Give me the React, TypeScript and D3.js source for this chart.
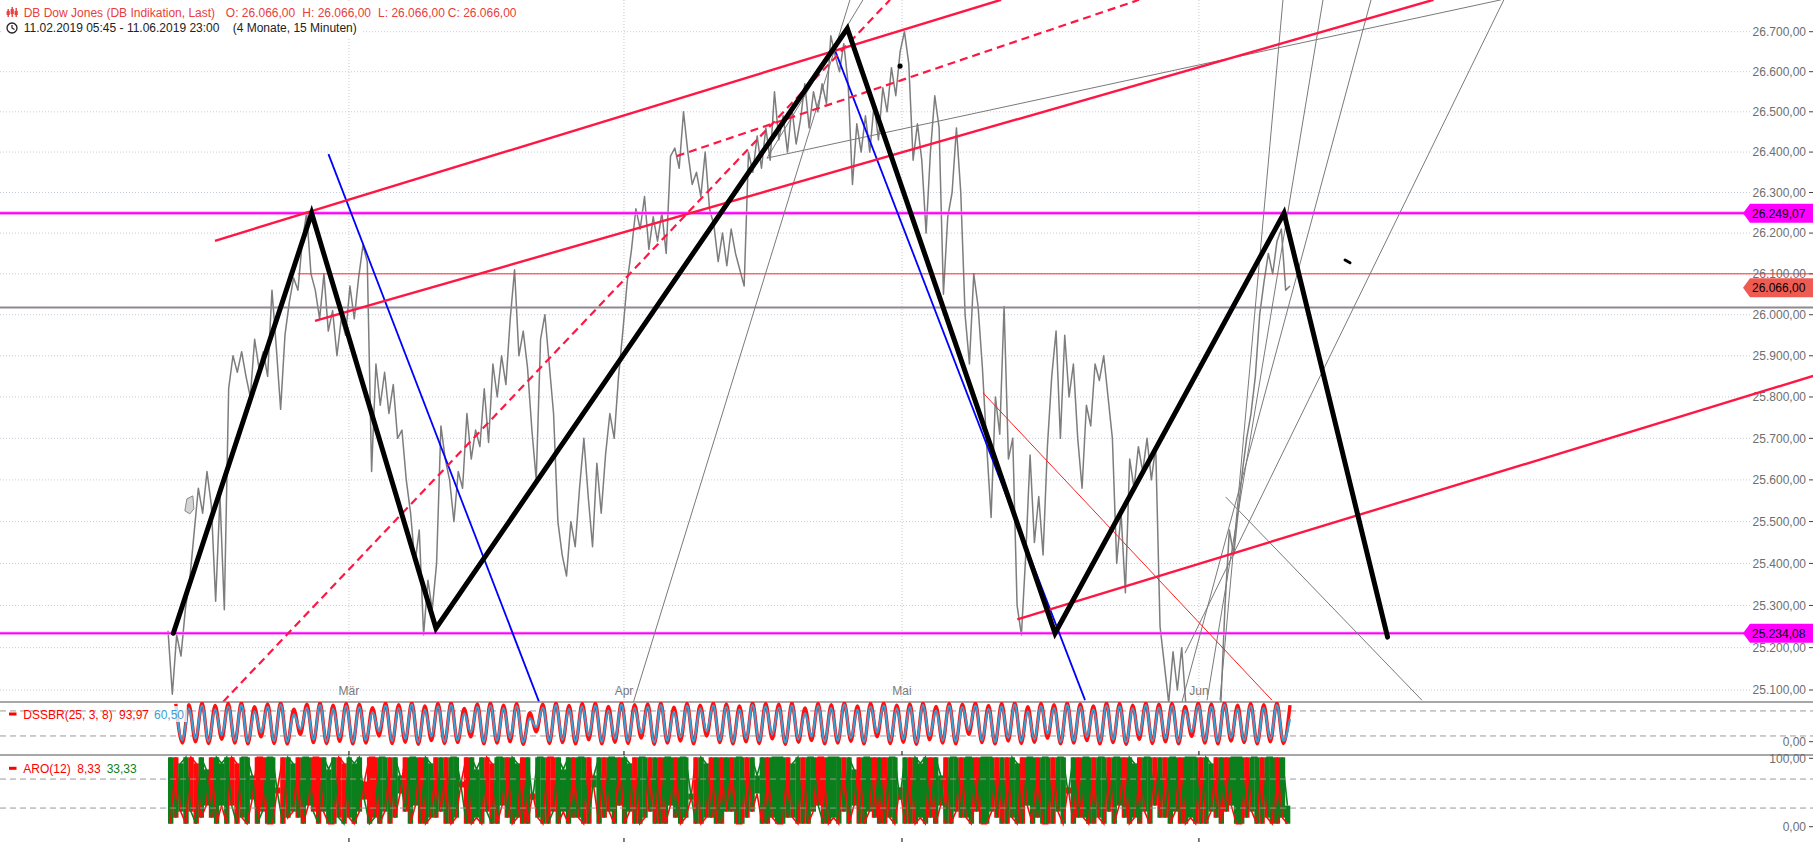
import React from 'react';
import * as d3 from 'd3';

const W = 1813;
const H = 842;

// ---------------- data ----------------
// Dow Jones 15-min closes, sampled roughly every 1/3 trading day (11.02.2019 - 11.06.2019)
const priceSeries = [
  25240, 25090, 25230, 25180, 25290, 25360, 25470, 25580, 25520, 25620,
  25540, 25310, 25560, 25290, 25820, 25900, 25860, 25910, 25850, 25800,
  25940, 25870, 25910, 25850, 26060, 25920, 25770, 25950, 26030, 26090,
  26060, 26180, 26250, 26100, 26060, 25990, 26100, 25960, 26010, 25900,
  25990, 25950, 26070, 25990, 26090, 26170, 26130, 25620, 25880, 25780,
  25860, 25760, 25830, 25700, 25720, 25600, 25520, 25400, 25480, 25230,
  25360, 25290, 25400, 25730, 25650, 25600, 25500, 25620, 25580, 25760,
  25650, 25720, 25680, 25820, 25690, 25880, 25800, 25900, 25830, 25990,
  26110, 25900, 25960, 25870, 25720, 25600, 25940, 26000, 25880, 25760,
  25500, 25420, 25370, 25500, 25440, 25580, 25700, 25560, 25440, 25640,
  25520, 25660, 25760, 25700, 25850, 25960, 26080, 26160, 26260, 26210,
  26290, 26160, 26240, 26180, 26250, 26150, 26390, 26410, 26360, 26500,
  26400, 26320, 26350, 26290, 26400, 26260, 26220, 26130, 26200, 26120,
  26210, 26150, 26110, 26070, 26400, 26350, 26440, 26360, 26460, 26380,
  26550, 26430, 26490, 26400, 26510, 26420, 26480, 26570, 26460, 26550,
  26500, 26570, 26520, 26690, 26640, 26600, 26670, 26570, 26320, 26470,
  26400, 26490, 26400, 26520, 26430, 26560, 26500, 26610, 26540, 26650,
  26700, 26620, 26380, 26470, 26380, 26200, 26400, 26540, 26460, 26050,
  26240, 26300, 26460, 26300, 26000, 25880, 26100, 26020, 25870, 25680,
  25510, 25800, 25710, 26020, 25650, 25700, 25300, 25230, 25420, 25660,
  25450, 25560, 25420, 25680, 25850, 25960, 25700, 25950, 25800, 25880,
  25700, 25580, 25780, 25730, 25880, 25840, 25900, 25800, 25700, 25400,
  25520, 25330, 25650, 25580, 25680, 25620, 25700, 25600, 25680, 25250,
  25160, 25070, 25190, 25100, 25200, 25060, 25010, 24950, 24900, 24960,
  24880, 24920, 24980, 25060, 25300, 25480, 25420, 25520, 25620, 25700,
  25760, 25850, 26000, 26080, 26150, 26100, 26180, 26210, 26060, 26070,
];
const priceFirstDay = 0;
const priceLastDay = 86;

const priceTicks = [25100, 25200, 25300, 25400, 25500, 25600, 25700, 25800, 25900, 26000, 26100, 26200, 26300, 26400, 26500, 26600, 26700];

const monthTicks = [
  { label: 'Mär', day: 13.87 },
  { label: 'Apr', day: 34.95 },
  { label: 'Mai', day: 56.26 },
  { label: 'Jun', day: 79.02 },
];

// DSSBR(25,3,8): red = DSS, blue = signal (successive swing highs / lows)
const dssBlue = [
  90, 10, 86, 14, 93, 7, 84, 22, 91, 9, 94, 6, 79, 28, 90, 8, 95, 6, 72, 36,
  88, 11, 94, 7, 85, 16, 92, 6, 89, 10, 77, 31, 93, 8, 87, 13, 95, 5, 83, 19,
  91, 7, 94, 10, 74, 29, 90, 6, 93, 9, 86, 15, 92, 5, 62, 41, 88, 8, 94, 11,
  85, 7, 91, 21, 93, 6, 81, 13, 95, 8, 87, 26, 90, 5, 94, 9, 78, 17, 92, 7,
  86, 31, 93, 10, 90, 6, 84, 14, 94, 8, 91, 23, 88, 5, 93, 12, 75, 19, 92, 7,
  87, 9, 95, 15, 83, 6, 91, 28, 93, 8, 86, 12, 90, 5, 94, 20, 81, 9, 92, 7,
  89, 34, 93, 10, 85, 6, 91, 16, 95, 8, 79, 12, 92, 25, 87, 6, 94, 9, 90, 18,
  84, 7, 93, 11, 91, 5, 86, 22, 94, 8, 88, 14, 92, 6, 82, 29, 93, 9, 90, 7,
  95, 16, 85, 10, 92, 6, 87, 13, 94, 8, 60.5,
];
const dssRed = [
  97, 3, 95, 6, 99, 2, 93, 12, 98, 3, 100, 1, 90, 18, 97, 2, 100, 1, 84, 24,
  96, 4, 99, 2, 94, 7, 98, 1, 96, 3, 88, 20, 99, 2, 95, 5, 100, 0, 92, 9,
  98, 2, 100, 4, 86, 18, 97, 1, 99, 3, 94, 6, 98, 0, 76, 30, 96, 2, 99, 4,
  93, 1, 98, 11, 99, 1, 91, 5, 100, 2, 95, 15, 97, 0, 99, 3, 89, 8, 98, 1,
  94, 20, 99, 4, 97, 1, 92, 6, 100, 2, 98, 13, 96, 0, 99, 5, 87, 9, 98, 1,
  95, 3, 100, 7, 92, 1, 98, 18, 99, 2, 94, 5, 97, 0, 99, 11, 91, 3, 98, 1,
  96, 24, 99, 4, 93, 1, 98, 8, 100, 2, 90, 5, 98, 15, 95, 1, 99, 3, 97, 9,
  92, 1, 99, 4, 98, 0, 94, 12, 99, 2, 96, 6, 98, 1, 91, 19, 99, 3, 97, 1,
  100, 8, 94, 4, 98, 1, 95, 6, 99, 2, 93.97,
];
const dssFirstDay = 0.6;
const dssLastDay = 86;

// Aroon(12) up / down in steps of 1/12 (x 8,33)
const aroonUpSteps = [
  12, 2, 11, 12, 3, 1, 12, 10, 2, 12, 11, 12, 4, 1, 12, 12, 9, 1, 3, 12,
  12, 6, 1, 12, 11, 2, 12, 12, 3, 1, 12, 10, 12, 2, 1, 12, 11, 12, 5, 1,
  2, 12, 12, 1, 12, 9, 3, 12, 12, 1, 12, 11, 2, 12, 1, 12, 12, 7, 1, 12,
  10, 12, 3, 1, 12, 12, 2, 12, 11, 1, 12, 5, 12, 12, 1, 3, 12, 10, 12, 2,
  12, 12, 1, 9, 12, 2, 12, 12, 4, 12, 11, 1, 12, 12, 3, 12, 1, 12, 12, 2,
  12, 12, 6, 1, 12, 11, 2, 12, 1, 12, 3, 12, 12, 2, 12, 9, 12, 1, 12, 12,
  12, 2, 11, 12, 1, 12, 12, 4, 1, 12, 12, 12, 3, 12, 10, 1, 12, 12, 2, 12,
  1, 12, 12, 5, 12, 1, 12, 11, 12, 2, 12, 9, 1, 12, 12, 2, 12, 12, 3, 12,
  12, 12, 2, 12, 1, 12, 11, 1, 12, 12, 2, 12, 12, 1, 12, 12, 6, 12, 2, 12,
  12, 1, 12, 12, 3, 12, 12, 2, 12, 11, 1, 12, 12, 4, 12, 2, 12, 12, 1, 12,
  12, 12, 1, 12, 11, 2, 12, 3, 12, 12, 12, 2, 12, 12, 1, 12, 12, 1, 12, 4,
];
const aroonDownSteps = [
  1, 12, 3, 1, 12, 11, 2, 4, 12, 1, 4, 1, 12, 11, 2, 1, 5, 12, 12, 1,
  1, 7, 12, 2, 3, 12, 1, 4, 12, 12, 3, 1, 1, 12, 11, 2, 1, 3, 8, 12,
  12, 1, 3, 12, 2, 6, 12, 1, 4, 12, 1, 2, 12, 3, 12, 1, 2, 8, 12, 1,
  2, 1, 12, 11, 1, 4, 12, 1, 2, 12, 1, 6, 2, 1, 12, 12, 1, 3, 1, 12,
  2, 1, 12, 7, 1, 12, 3, 1, 12, 1, 3, 12, 1, 2, 12, 1, 12, 1, 4, 12,
  1, 2, 5, 12, 1, 2, 12, 1, 12, 3, 12, 1, 1, 12, 3, 6, 1, 12, 2, 1,
  1, 12, 2, 1, 12, 1, 3, 12, 12, 1, 2, 1, 12, 1, 4, 12, 1, 3, 12, 1,
  12, 2, 1, 7, 1, 12, 1, 2, 1, 12, 1, 4, 12, 1, 3, 12, 2, 1, 12, 1,
  1, 3, 12, 1, 12, 2, 1, 12, 4, 1, 12, 1, 1, 12, 3, 1, 7, 1, 12, 2,
  1, 12, 2, 1, 12, 1, 4, 12, 1, 2, 12, 3, 1, 12, 2, 12, 1, 3, 12, 1,
  2, 1, 12, 1, 3, 12, 1, 12, 4, 1, 1, 12, 3, 1, 12, 2, 1, 12, 2, 1,
];
const aroonFirstDay = 0;
const aroonLastDay = 86;

// horizontal levels
const resistanceLevel = 26249.07;
const supportLevel = 25234.08;
const lastPrice = 26066.0;
const redLevel = { fromDay: 9.96, price: 26100 };
const grayLevel = { fromDay: -13, price: 26017.6 };

// drawn tools: [day1, price1, day2, price2]
const blackZigzag: [number, number][] = [
  [0.41, 25234], [11.01, 26249], [20.54, 25246], [52.07, 26708],
  [67.99, 25234], [85.54, 26249], [93.48, 25225],
];
const redChannels = [
  [3.6, 26181, 63.85, 26780],
  [11.27, 25985, 97.0, 26780],
  [65.1, 25267, 126.1, 25851],
];
const redDashed = [
  [4.22, 25072, 55.34, 26780],
  [38.99, 26390, 74.43, 26780],
];
const blueLines = [
  [12.3, 26395, 28.44, 25072],
  [51.12, 26654, 70.29, 25076],
];
const thinRedLines = [[62.47, 25810, 84.62, 25076]];
const grayLines = [
  [35.68, 25072, 52.27, 26780],
  [45.91, 26385, 102.17, 26780],
  [45.91, 26385, 53.27, 26780],
  [77.95, 25187, 102.39, 26780],
  [77.72, 25072, 92.21, 26780],
  [79.64, 25076, 88.53, 26780],
  [80.63, 25076, 85.46, 26780],
  [81.07, 25559, 96.11, 25076],
];
const dots: [number, number][] = [[56.11, 26614]];
const dashMarks = [[90.22, 26134, 90.6, 26127]];

// ---------------- layout ----------------
const MAIN_BOTTOM = 702;
const DSS_BOTTOM = 755;
const xScale = d3.scaleLinear().domain([0, 86]).range([168, 1290]);
const yPrice = d3.scaleLog().domain([25100, 26700]).range([690, 31.7]);
const yDss = d3.scaleLinear().domain([0, 100]).range([744.3, 702.6]);
const yAro = d3.scaleLinear().domain([0, 100]).range([829.8, 757.3]);

const de = d3.formatLocale({ decimal: ',', thousands: '.', grouping: [3], currency: ['', ''] });
const fmt = de.format(',.2f');

const FONT = "'Liberation Sans', Arial, Helvetica, sans-serif";

function seg(d: number[]) {
  return { x1: xScale(d[0]), y1: yPrice(d[1]), x2: xScale(d[2]), y2: yPrice(d[3]) };
}

function PriceTag({ value, fill, y }: { value: number; fill: string; y: number }) {
  const h = 19;
  const x0 = 1743;
  const pts = `${x0},${y} ${x0 + 7},${y - h / 2} ${W},${y - h / 2} ${W},${y + h / 2} ${x0 + 7},${y + h / 2}`;
  return (
    <g>
      <polygon points={pts} fill={fill} />
      <text x={1752} y={y + 4.5} fontSize={12} fill="#000" fontFamily={FONT}>{fmt(value)}</text>
    </g>
  );
}

export default function App() {
  const nP = priceSeries.length;
  const priceT = (i: number) => priceFirstDay + (i * (priceLastDay - priceFirstDay)) / (nP - 1);
  const pricePath = d3.line<number>().x((d, i) => xScale(priceT(i))).y((d) => yPrice(d))(priceSeries) || '';

  const dssT = (n: number) => (i: number) => dssFirstDay + (i * (dssLastDay - dssFirstDay)) / (n - 1);
  const tB = dssT(dssBlue.length);
  const tR = dssT(dssRed.length);
  const bluePath = d3.line<number>().x((d, i) => xScale(tB(i))).y((d) => yDss(d)).curve(d3.curveMonotoneX)(dssBlue) || '';
  const redPath = d3.line<number>().x((d, i) => xScale(tR(i))).y((d) => yDss(d)).curve(d3.curveMonotoneX)(dssRed) || '';

  const nA = aroonUpSteps.length;
  const aStep = (aroonLastDay - aroonFirstDay) / nA;
  const aroUp = aroonUpSteps.map((s) => (s * 100) / 12);
  const aroDn = aroonDownSteps.map((s) => (s * 100) / 12);
  const aroUpPath = d3.line<number>().x((d, i) => xScale(aroonFirstDay + (i + 0.5) * aStep)).y((d) => yAro(d))(aroUp) || '';
  const aroDnPath = d3.line<number>().x((d, i) => xScale(aroonFirstDay + (i + 0.5) * aStep)).y((d) => yAro(d))(aroDn) || '';

  const zig = d3.line<[number, number]>().x((d) => xScale(d[0])).y((d) => yPrice(d[1]))(blackZigzag) || '';

  const gridColor = '#c3cfdc';

  return (
    <svg width={W} height={H} viewBox={`0 0 ${W} ${H}`} style={{ position: 'fixed', left: 0, top: 0, background: '#fff' }} fontFamily={FONT}>
      <defs>
        <clipPath id="mainClip"><rect x={0} y={0} width={W} height={MAIN_BOTTOM} /></clipPath>
        <clipPath id="dssClip"><rect x={0} y={MAIN_BOTTOM} width={W} height={DSS_BOTTOM - MAIN_BOTTOM} /></clipPath>
        <clipPath id="aroClip"><rect x={0} y={DSS_BOTTOM} width={W} height={H - DSS_BOTTOM} /></clipPath>
      </defs>
      <rect x={0} y={0} width={W} height={H} fill="#fff" />

      {/* grid */}
      <g>
        {priceTicks.map((p) => (
          <line key={p} x1={0} x2={1750} y1={yPrice(p)} y2={yPrice(p)} stroke={gridColor} strokeWidth={1} strokeDasharray="1,2" />
        ))}
        {monthTicks.map((m) => (
          <line key={m.label} x1={xScale(m.day)} x2={xScale(m.day)} y1={0} y2={MAIN_BOTTOM} stroke="#c8c8c8" strokeWidth={1} strokeDasharray="1,2" />
        ))}
      </g>

      {/* right axis labels */}
      <g fontSize={12} fill="#6e6e6e">
        {priceTicks.map((p) => (
          <g key={p}>
            <text x={1806} y={yPrice(p) + 4.3} textAnchor="end">{fmt(p)}</text>
            <line x1={1809} x2={1813} y1={yPrice(p)} y2={yPrice(p)} stroke="#444" strokeWidth={1} />
          </g>
        ))}
      </g>

      {/* month labels */}
      <g fontSize={12} fill="#7a7a7a">
        {monthTicks.map((m) => (
          <text key={m.label} x={xScale(m.day)} y={695} textAnchor="middle">{m.label}</text>
        ))}
      </g>

      {/* main panel content */}
      <g clipPath="url(#mainClip)">
        <path d={pricePath} fill="none" stroke="#7d7d7d" strokeWidth={1.5} strokeLinejoin="round" />

        {/* flag marker */}
        <g transform={`translate(${xScale(1.6)},${yPrice(25540)})`}>
          <path d="M-4,6 L-2,-6 L4,-9 L5,4 L1,9 Z" fill="#d4d4d4" stroke="#8a8a8a" strokeWidth={1} />
        </g>

        {/* levels */}
        <line x1={0} x2={W} y1={yPrice(grayLevel.price)} y2={yPrice(grayLevel.price)} stroke="#8f8891" strokeWidth={2} />
        <line x1={xScale(redLevel.fromDay)} x2={W} y1={yPrice(redLevel.price)} y2={yPrice(redLevel.price)} stroke="#ff2a2a" strokeWidth={1} />
        {[resistanceLevel, supportLevel].map((p) => (
          <g key={p}>
            <line x1={0} x2={1750} y1={yPrice(p)} y2={yPrice(p)} stroke="#ff7cff" strokeWidth={3.2} />
            <line x1={0} x2={1750} y1={yPrice(p)} y2={yPrice(p)} stroke="#ff00ff" strokeWidth={1.6} />
          </g>
        ))}

        {grayLines.map((d, i) => <line key={'g' + i} {...seg(d)} stroke="#7a7a7a" strokeWidth={1} />)}
        {thinRedLines.map((d, i) => <line key={'tr' + i} {...seg(d)} stroke="#ff2020" strokeWidth={1} />)}
        {blueLines.map((d, i) => <line key={'b' + i} {...seg(d)} stroke="#0000ff" strokeWidth={1.8} />)}
        {redChannels.map((d, i) => <line key={'r' + i} {...seg(d)} stroke="#ff1744" strokeWidth={2.4} />)}
        {redDashed.map((d, i) => <line key={'rd' + i} {...seg(d)} stroke="#ff1744" strokeWidth={2.2} strokeDasharray="8,5" />)}

        <path d={zig} fill="none" stroke="#000" strokeWidth={5} strokeLinejoin="miter" strokeLinecap="round" />

        {dots.map((d, i) => <circle key={'d' + i} cx={xScale(d[0])} cy={yPrice(d[1])} r={2.6} fill="#000" />)}
        {dashMarks.map((d, i) => <line key={'dm' + i} {...seg(d)} stroke="#000" strokeWidth={3} strokeLinecap="round" />)}
      </g>

      {/* price tags */}
      <PriceTag value={resistanceLevel} fill="#ff00ff" y={yPrice(resistanceLevel)} />
      <PriceTag value={supportLevel} fill="#ff00ff" y={yPrice(supportLevel)} />
      <PriceTag value={lastPrice} fill="#ee5b52" y={yPrice(lastPrice)} />

      {/* panel separators */}
      <line x1={0} x2={W} y1={MAIN_BOTTOM} y2={MAIN_BOTTOM} stroke="#8a8a8a" strokeWidth={1.5} />
      <line x1={0} x2={W} y1={DSS_BOTTOM} y2={DSS_BOTTOM} stroke="#8a8a8a" strokeWidth={1.5} />

      {/* DSSBR panel */}
      {[80, 20].map((v) => (
        <line key={'dl' + v} x1={0} x2={W} y1={yDss(v)} y2={yDss(v)} stroke="#9a9a9a" strokeWidth={1} strokeDasharray="6,4" />
      ))}
      <g clipPath="url(#dssClip)">
        <path d={redPath} fill="none" stroke="#ff1010" strokeWidth={3.4} strokeLinejoin="round" />
        <path d={bluePath} fill="none" stroke="#3a9fd3" strokeWidth={2.2} strokeLinejoin="round" />
      </g>
      <rect x={150} y={706} width={37} height={16} fill="#fff" opacity={0.75} />
      <g fontSize={12}>
        <rect x={9} y={712.5} width={7.5} height={3} fill="#ff0000" />
        <text x={23.3} y={718.5} fill="#ff0000">DSSBR(25, 3, 8)</text>
        <text x={119} y={718.5} fill="#ff0000">93,97</text>
        <text x={154} y={718.5} fill="#3a9fd3">60,50</text>
      </g>

      {/* ARO panel */}
      <g clipPath="url(#aroClip)">
        {aroUp.map((u, i) => {
          const dn = aroDn[i];
          const x0 = xScale(aroonFirstDay + i * aStep);
          const x1 = xScale(aroonFirstDay + (i + 1) * aStep);
          const hi = Math.max(u, dn);
          const lo = Math.min(u, dn);
          return (
            <rect key={'a' + i} x={x0} width={x1 - x0 + 0.3} y={yAro(hi)} height={yAro(lo) - yAro(hi)} fill={u >= dn ? '#0b7f1b' : '#ff0a0a'} />
          );
        })}
        <path d={aroDnPath} fill="none" stroke="#ff0a0a" strokeWidth={1.6} />
        <path d={aroUpPath} fill="none" stroke="#0b7f1b" strokeWidth={1.6} />
      </g>
      {[70, 30].map((v) => (
        <line key={'al' + v} x1={0} x2={W} y1={yAro(v)} y2={yAro(v)} stroke="#9a9a9a" strokeWidth={1} strokeDasharray="6,4" />
      ))}
      <g fontSize={12}>
        <rect x={9} y={766.8} width={7.5} height={3} fill="#ff0000" />
        <text x={23.3} y={772.5} fill="#ff0000">ARO(12)</text>
        <text x={77.3} y={772.5} fill="#ff0000">8,33</text>
        <text x={106.7} y={772.5} fill="#0b7f1b">33,33</text>
      </g>

      {/* indicator axis labels */}
      <g fontSize={12} fill="#6e6e6e">
        <text x={1806} y={746} textAnchor="end">0,00</text>
        <line x1={1809} x2={1813} y1={741.7} y2={741.7} stroke="#444" />
        <text x={1806} y={762.6} textAnchor="end">100,00</text>
        <line x1={1809} x2={1813} y1={758.3} y2={758.3} stroke="#444" />
        <text x={1806} y={831} textAnchor="end">0,00</text>
        <line x1={1809} x2={1813} y1={826.7} y2={826.7} stroke="#444" />
      </g>

      {/* month ticks on panel edges */}
      {monthTicks.map((m) => (
        <g key={'mt' + m.label}>
          <line x1={xScale(m.day)} x2={xScale(m.day)} y1={751} y2={755} stroke="#000" />
          <line x1={xScale(m.day)} x2={xScale(m.day)} y1={838} y2={842} stroke="#000" />
        </g>
      ))}

      {/* header */}
      <rect x={3} y={3} width={520} height={16} fill="#fff" />
      <rect x={3} y={20} width={358} height={17} fill="#fff" />
      <g fill="#e8403c">
        <rect x={7.5} y={9} width={1.4} height={8} />
        <rect x={6.6} y={11} width={3.2} height={4} />
        <rect x={11.5} y={7} width={1.4} height={10} />
        <rect x={10.6} y={9} width={3.2} height={5} />
        <rect x={15.5} y={8} width={1.4} height={9} />
        <rect x={14.6} y={11} width={3.2} height={4} />
      </g>
      <g fontSize={12} fill="#e8403c">
        <text x={23.7} y={16.5}>DB Dow Jones (DB Indikation, Last)</text>
        <text x={225.8} y={16.5}>O: {fmt(lastPrice)}</text>
        <text x={302.3} y={16.5}>H: {fmt(lastPrice)}</text>
        <text x={378.1} y={16.5}>L: {fmt(lastPrice)}</text>
        <text x={447.8} y={16.5}>C: {fmt(lastPrice)}</text>
      </g>
      <g>
        <circle cx={12} cy={28} r={5} fill="none" stroke="#222" strokeWidth={1.3} />
        <polyline points="12,25 12,28 14.5,29.5" fill="none" stroke="#222" strokeWidth={1.2} />
      </g>
      <g fontSize={12} fill="#222">
        <text x={23.7} y={32}>11.02.2019 05:45 - 11.06.2019 23:00</text>
        <text x={232.7} y={32}>(4 Monate, 15 Minuten)</text>
      </g>
    </svg>
  );
}
